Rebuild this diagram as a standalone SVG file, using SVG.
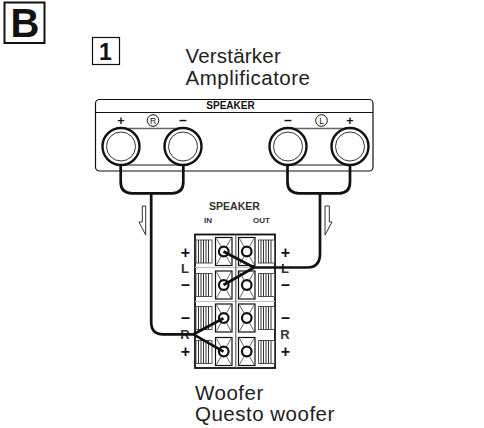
<svg xmlns="http://www.w3.org/2000/svg" width="484" height="428" viewBox="0 0 484 428">
<defs>
<style>
text{font-family:"Liberation Sans",Arial,sans-serif;fill:#111}
.lab{font-size:20.5px;letter-spacing:.5px;fill:#222}
.b{font-weight:bold}
.wire{fill:none;stroke:#111;stroke-width:2.7;stroke-linejoin:round}
.ln{fill:none;stroke:#111;stroke-width:1.200}
.sp{font-weight:bold;font-size:16px;text-anchor:middle}
.ch{font-weight:bold;font-size:13px;text-anchor:middle;fill:#333}
.hollow{fill:#fff;stroke:#111;stroke-width:1}
</style>
<g id="jack"><circle r="18.500" fill="#fff" stroke="#111" stroke-width="2.400"/><circle r="14.500" fill="#fff" stroke="#333" stroke-width="1"/></g>
<g id="strip"><rect x="0" y="0" width="16" height="23" fill="#fff" stroke="#555" stroke-width="1"/><path d="M2.500 0V23M5 0V23M7.500 0V23M10 0V23M12.500 0V23" stroke="#333" stroke-width="1"/></g>
<g id="term"><rect x="0" y="0" width="16.500" height="28" fill="#fff" stroke="#111" stroke-width="1.200"/><path d="M1 1L15.500 27M15.500 1L1 27" stroke="#444" stroke-width=".8"/><circle cx="8.250" cy="14" r="4.800" fill="#fff" stroke="#111" stroke-width="2.200"/></g>
</defs>
<g id="label-b"><rect x="4.500" y="2.500" width="40" height="40.500" fill="#fff" stroke="#111" stroke-width="2"/><text x="25" y="37" font-size="40" font-weight="bold" text-anchor="middle">B</text></g>
<g id="label-1"><rect x="92.500" y="37.500" width="27" height="27" fill="#fff" stroke="#111" stroke-width="1.200"/><text x="105.500" y="60" font-size="23" font-weight="bold" text-anchor="middle">1</text></g>
<g id="title-amp"><text class="lab" x="185.500" y="63" style="letter-spacing:.2px">Verstärker</text><text class="lab" x="185.500" y="85">Amplificatore</text></g>
<g id="amplifier">
<rect x="95.500" y="99.500" width="277.500" height="71.500" rx="4" fill="#fff" stroke="#111" stroke-width="1.200"/>
<path d="M95.500 112.500H373" class="ln"/>
<text class="b" x="230.500" y="109" font-size="10" text-anchor="middle">SPEAKER</text>
<path d="M121 128.500H183M121 165H183M288 128.500H350M288 165H350" fill="none" stroke="#666" stroke-width="1.600"/>
<use href="#jack" x="121" y="146.500"/><use href="#jack" x="183" y="146.500"/><use href="#jack" x="288" y="146.500"/><use href="#jack" x="350" y="146.500"/>
<text class="sp" x="121" y="125" style="font-size:12.500px">+</text><text class="sp" x="183" y="124.500" style="font-size:14px">–</text><text class="sp" x="288" y="124.500" style="font-size:14px">–</text><text class="sp" x="350" y="125" style="font-size:12.500px">+</text>
<circle cx="153" cy="120.500" r="5.800" class="hollow"/><text x="153" y="123.500" font-size="8.500" text-anchor="middle">R</text>
<circle cx="321.500" cy="120.500" r="5.800" class="hollow"/><text x="321.500" y="123.500" font-size="8.500" text-anchor="middle">L</text>
</g>
<g id="speaker">
<text class="b" x="234.500" y="209.500" font-size="10.500" text-anchor="middle" style="fill:#333">SPEAKER</text>
<text class="b" x="208" y="222.500" font-size="8" text-anchor="middle" style="fill:#333">IN</text><text class="b" x="261.500" y="222.500" font-size="8" text-anchor="middle" style="fill:#333">OUT</text>
<rect x="195" y="234.500" width="80" height="133.500" fill="#fff" stroke="#111" stroke-width="1.800"/>
<path d="M195 267.500H275M195 301.500H275" fill="none" stroke="#bbb" stroke-width="1"/>
<path d="M235.800 234.500V368" fill="none" stroke="#666" stroke-width="1.200"/>
<use href="#strip" x="196" y="240"/><use href="#strip" x="196" y="273.500"/><use href="#strip" x="196" y="306.500"/><use href="#strip" x="196" y="340.500"/>
<use href="#strip" x="258.500" y="240"/><use href="#strip" x="258.500" y="273.500"/><use href="#strip" x="258.500" y="306.500"/><use href="#strip" x="258.500" y="340.500"/>
<use href="#term" x="215.500" y="237.500"/><use href="#term" x="215.500" y="271"/><use href="#term" x="215.500" y="304"/><use href="#term" x="215.500" y="337.500"/>
<use href="#term" x="238.500" y="237.500"/><use href="#term" x="238.500" y="271"/><use href="#term" x="238.500" y="304"/><use href="#term" x="238.500" y="337.500"/>
<text class="sp" x="185.500" y="257.500">+</text><text class="sp" x="185.500" y="289.500">–</text><text class="sp" x="185.500" y="323">–</text><text class="sp" x="185.500" y="356.500">+</text>
<text class="sp" x="285.500" y="257.500">+</text><text class="sp" x="285.500" y="289.500">–</text><text class="sp" x="285.500" y="323">–</text><text class="sp" x="285.500" y="356.500">+</text>
<text class="ch" x="185" y="273">L</text><text class="ch" x="285" y="273">L</text>
<text class="ch" x="185" y="339">R</text><text class="ch" x="285" y="339">R</text>
</g>
<g id="title-woofer"><text class="lab" x="195" y="400">Woofer</text><text class="lab" x="195" y="421">Questo woofer</text></g>
<g id="connectors">
<path class="wire" d="M120.700 165V182Q120.700 193.300 132 193.300H172Q183.300 193.300 183.300 182V165"/>
<path class="wire" d="M287.500 165V182Q287.500 193.300 299 193.300H339Q350 193.300 350 182V165"/>
<path class="wire" d="M151.200 193V322Q151.200 334.300 163 334.300H193.500L223.500 318.300M193.500 334.300L223.500 351.700"/>
<path class="wire" d="M320 193V254Q320 267.500 307 267.500H254L223.500 251.500M254 267.500L223.500 285"/>
<path d="M142.300 206H145.700V235L139 222H142.300Z" fill="#fff" stroke="#333" stroke-width="1"/>
<path d="M325 206H329.300V222H332L325 235Z" fill="#fff" stroke="#333" stroke-width="1"/>
</g>
</svg>
